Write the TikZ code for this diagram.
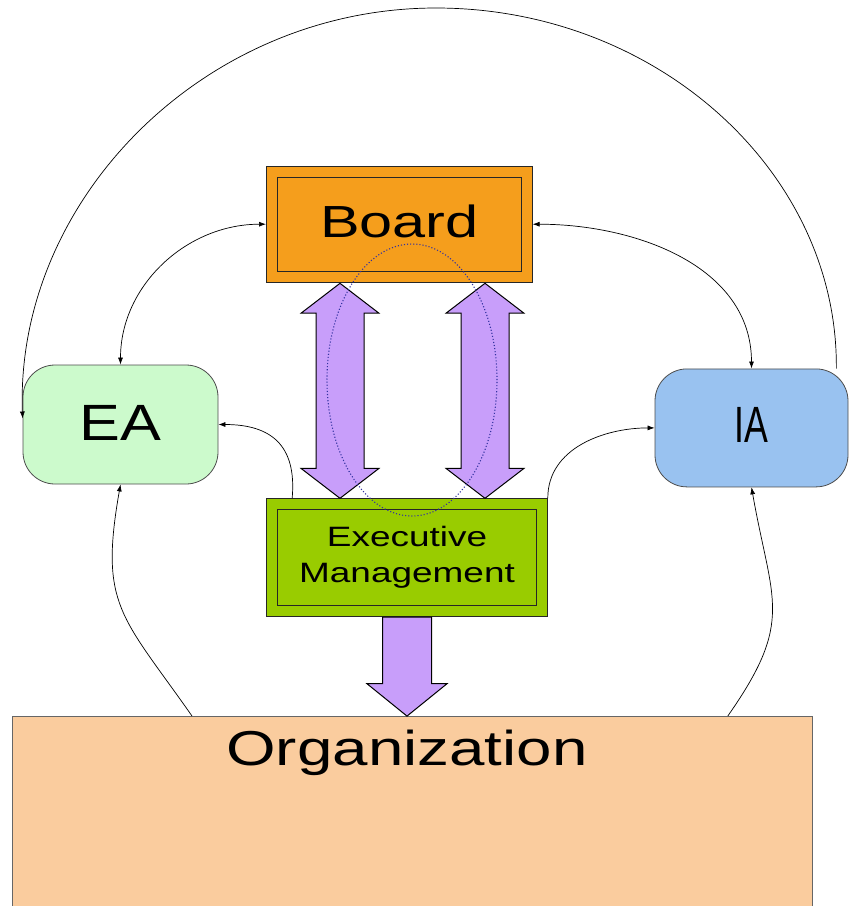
\documentclass[tikz,border=0pt]{standalone}
\usepackage{fontspec}
\setmainfont{Liberation Sans}
\usepackage{graphicx}
\usetikzlibrary{positioning,calc,arrows.meta,shapes.arrows}
\definecolor{boardorange}{RGB}{245,158,28}
\definecolor{execgreen}{RGB}{153,204,0}
\definecolor{eagreen}{RGB}{204,250,204}
\definecolor{iablue}{RGB}{153,194,240}
\definecolor{orgpeach}{RGB}{250,204,158}
\definecolor{lilac}{RGB}{200,158,250}
\definecolor{dotblue}{RGB}{50,50,160}
\tikzset{dbox/.style={draw=black!85,line width=0.8pt,double=#1,double distance=10pt,fill=#1,inner sep=0pt,outer sep=5.8pt}  }
\tikzset{rbox/.style={draw=black!70,line width=0.8pt,fill=#1,rounded corners=32pt,inner sep=0pt}  }
\tikzset{conn/.style={draw=black,line width=0.7pt,-{Latex[length=7pt,width=5pt]}}  }
\tikzset{fatarrow/.style={draw=black,line width=1pt,fill=lilac,inner xsep=0pt}  }
\tikzset{>={Latex[length=7pt,width=5pt]}}

\begin{document}
\begin{tikzpicture}[x=1pt,y=-1pt]
	\useasboundingbox (0,0) rectangle (851,906);
	
		\node[dbox=boardorange,minimum width=255pt,minimum height=105pt,font=\fontsize{45}{54}\selectfont] (board) at (399.3,224.2)
			{\raisebox{6.5pt}{\scalebox{1.32}[1]{Board}}};
		\node[dbox=execgreen,minimum width=270pt,minimum height=107pt,align=center,font=\fontsize{28}{36.5}\selectfont] (exec) at (407,557.3)
			{\scalebox{1.32}[1]{Executive}\\\scalebox{1.32}[1]{Management}};
		\node[rbox=eagreen,minimum width=195pt,minimum height=119pt,font=\fontsize{51}{60}\selectfont] (EA) at (120.5,424.5)
			{\raisebox{3pt}{\scalebox{1.2}[1]{EA}}};
		\node[rbox=iablue,minimum width=193pt,minimum height=118pt,font=\fontsize{51}{60}\selectfont] (IA) at (751.5,427.9)
			{\raisebox{5pt}{\scalebox{0.7}[1]{IA}}};
		\node[draw=black!60,line width=0.8pt,fill=orgpeach,minimum width=800pt,minimum height=210pt,anchor=north west] (org) at (12,716) {};
		\node[anchor=base,font=\fontsize{49}{58}\selectfont] (orgtxt) at (407,765) {\scalebox{1.3}[1]{Organization}};
		
		% fat arrows
		\node[fatarrow,double arrow,inner ysep=23.5pt,double arrow head extend=15pt,double arrow tip angle=105,minimum height=215pt,rotate=90] (arrl) at (340,390.8) {};
		\node[fatarrow,double arrow,inner ysep=23.5pt,double arrow head extend=15pt,double arrow tip angle=105,minimum height=215pt,rotate=90] (arrr) at (485,390.8) {};
		\node[fatarrow,single arrow,inner ysep=24pt,single arrow head extend=15.5pt,single arrow tip angle=102,minimum height=99pt,rotate=-90,anchor=tail] (arrd) at (exec.south) {};
		
		% connectors
		\draw[conn] (IA.35) .. controls (838,172) and (657,8) .. (436,8) .. controls (204,8) and (15,200) .. ([yshift=6pt]EA.west);
		\draw[conn,<->] (EA.north) to[out=90,in=180] (board.west);
		\draw[conn,<->] (board.east) to[out=0,in=90] (IA.north);
		\draw[conn] ([xshift=26pt]exec.north west) to[out=85,in=0,looseness=1.3] (EA.east);
		\draw[conn] (exec.north east) to[out=90,in=180] (IA.west);
		\draw[conn] ([xshift=180pt]org.north west) to[out=125,in=-100,looseness=1.3] (EA.south);
		\draw[conn] ([xshift=-85pt]org.north east) to[out=55,in=-80,looseness=1.3] (IA.south);
		
		\draw[dotted,dotblue,line width=1.1pt] (412,380) ellipse [x radius=85pt,y radius=136pt];
	\end{tikzpicture}
\end{document}
